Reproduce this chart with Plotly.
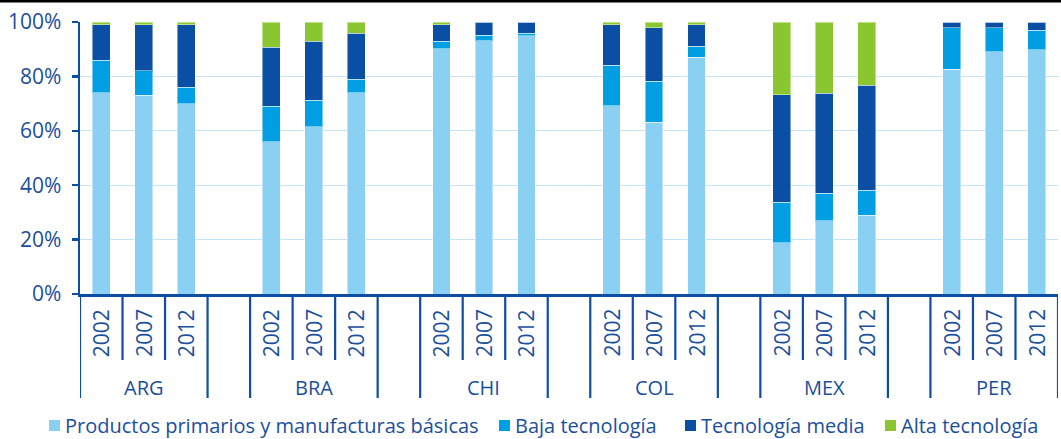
import plotly.graph_objects as go

countries = ["ARG", "BRA", "CHI", "COL", "MEX", "PER"]
years = ["2002", "2007", "2012"]
series_names = ["Productos primarios y manufacturas básicas", "Baja tecnología",
                "Tecnología media", "Alta tecnología"]

# values per country/year in order ARG02, ARG07, ARG12, BRA02, ...
primarios = [74.0, 73.0, 70.0, 56.0, 61.4, 74.0, 90.1, 93.1, 95.0,
             69.2, 63.2, 87.1, 18.8, 27.0, 29.0, 82.7, 89.0, 89.8]
baja = [12.0, 9.0, 6.0, 13.0, 9.9, 4.9, 2.9, 2.0, 0.8,
        14.9, 15.1, 4.0, 15.0, 10.1, 9.1, 15.2, 8.9, 7.2]
media = [13.0, 17.0, 23.0, 21.8, 21.6, 16.9, 6.0, 4.9, 4.2,
         14.9, 19.5, 7.9, 39.4, 36.7, 38.7, 2.1, 2.1, 3.0]
alta = [1.0, 1.0, 1.0, 9.2, 7.1, 4.2, 1.0, 0.0, 0.0,
        1.0, 2.2, 1.0, 26.8, 26.2, 23.2, 0.0, 0.0, 0.0]

colors = ["#8ad0f2", "#009ee2", "#0a4fa3", "#89c62f"]
text_color = "#1b4f9c"
axis_color = "#0d4ea2"
grid_color = "#c4e5f7"
font_family = "Open Sans"

W, H = 1061, 439
ML, MR, MT, MB = 80, 3, 22, 145
PW, PH = W - ML - MR, H - MT - MB


def px_x(px):
    return (px - ML) / PW


def px_y(py):
    return (H - MB - py) / PH


# numeric slot positions, with one empty slot between countries
xpos = []
for g in range(len(countries)):
    for j in range(len(years)):
        xpos.append(g * (len(years) + 1) + j)

fig = go.Figure()
for name, vals, col in zip(series_names, [primarios, baja, media, alta], colors):
    fig.add_trace(go.Bar(
        x=xpos, y=vals, name=name, width=0.42, showlegend=False,
        marker=dict(color=col, line=dict(color="rgba(255,255,255,0.45)", width=1)),
    ))

n_slots = len(countries) * (len(years) + 1) - 1
annotations = []
shapes = []
for g, c in enumerate(countries):
    start = g * (len(years) + 1)
    for j, yr in enumerate(years):
        annotations.append(dict(
            x=start + j, y=px_y(333), xref="x", yref="paper", text=yr, textangle=-90,
            showarrow=False, font=dict(size=21, color=text_color, family=font_family),
            xanchor="center", yanchor="middle"))
    annotations.append(dict(
        x=start + (len(years) - 1) / 2, y=px_y(387), xref="x", yref="paper", text=c,
        showarrow=False, font=dict(size=20, color=text_color, family=font_family),
        xanchor="center", yanchor="middle"))
    for edge in (start - 0.5, start + len(years) - 0.5):
        shapes.append(dict(type="line", xref="x", yref="paper", x0=edge, x1=edge,
                           y0=0, y1=px_y(398), line=dict(color=axis_color, width=2.2)))
    for j in range(1, len(years)):
        e = start + j - 0.5
        shapes.append(dict(type="line", xref="x", yref="paper", x0=e, x1=e,
                           y0=0, y1=px_y(360), line=dict(color=axis_color, width=2.2)))

# manual legend (square + label)
legend_sq_x = [49, 499, 685, 885]
legend_tx_x = [63, 513, 699, 899]
for name, col, sx, tx in zip(series_names, colors, legend_sq_x, legend_tx_x):
    shapes.append(dict(type="rect", xref="paper", yref="paper",
                       x0=px_x(sx), x1=px_x(sx + 11), y0=px_y(420), y1=px_y(431),
                       fillcolor=col, line=dict(width=0)))
    annotations.append(dict(x=px_x(tx), y=px_y(425), xref="paper", yref="paper",
                            text=name, showarrow=False, xanchor="left", yanchor="middle",
                            font=dict(size=20, color=text_color, family=font_family)))

# top black rule
shapes.append(dict(type="line", xref="paper", yref="paper", x0=px_x(0), x1=px_x(W),
                   y0=px_y(1), y1=px_y(1), line=dict(color="black", width=3)))

fig.update_layout(
    width=W, height=H,
    margin=dict(l=ML, r=MR, t=MT, b=MB, autoexpand=False),
    paper_bgcolor="white", plot_bgcolor="white",
    barmode="stack", bargap=0,
    font=dict(family=font_family, color=text_color, size=19),
    showlegend=False,
    annotations=annotations,
    shapes=shapes,
    hovermode=False,
)
fig.update_xaxes(range=[-0.5, n_slots - 0.5], showticklabels=False, showgrid=False,
                 zeroline=False, showline=True, linecolor=axis_color, linewidth=2.5,
                 ticks="", fixedrange=True, automargin=False)
fig.update_yaxes(range=[0, 100], dtick=20, ticksuffix="%", showgrid=True,
                 gridcolor=grid_color, gridwidth=1.3, zeroline=False,
                 showline=True, linecolor=axis_color, linewidth=2.5,
                 ticks="outside", ticklen=6, tickwidth=2.5, tickcolor=axis_color,
                 tickfont=dict(size=21, color=text_color, family=font_family),
                 ticklabelstandoff=6, automargin=False, fixedrange=True)

fig.write_html("out.html",
               config={"displayModeBar": False, "staticPlot": True},
               post_script="document.body.style.margin='0px';document.body.style.overflow='hidden';")
